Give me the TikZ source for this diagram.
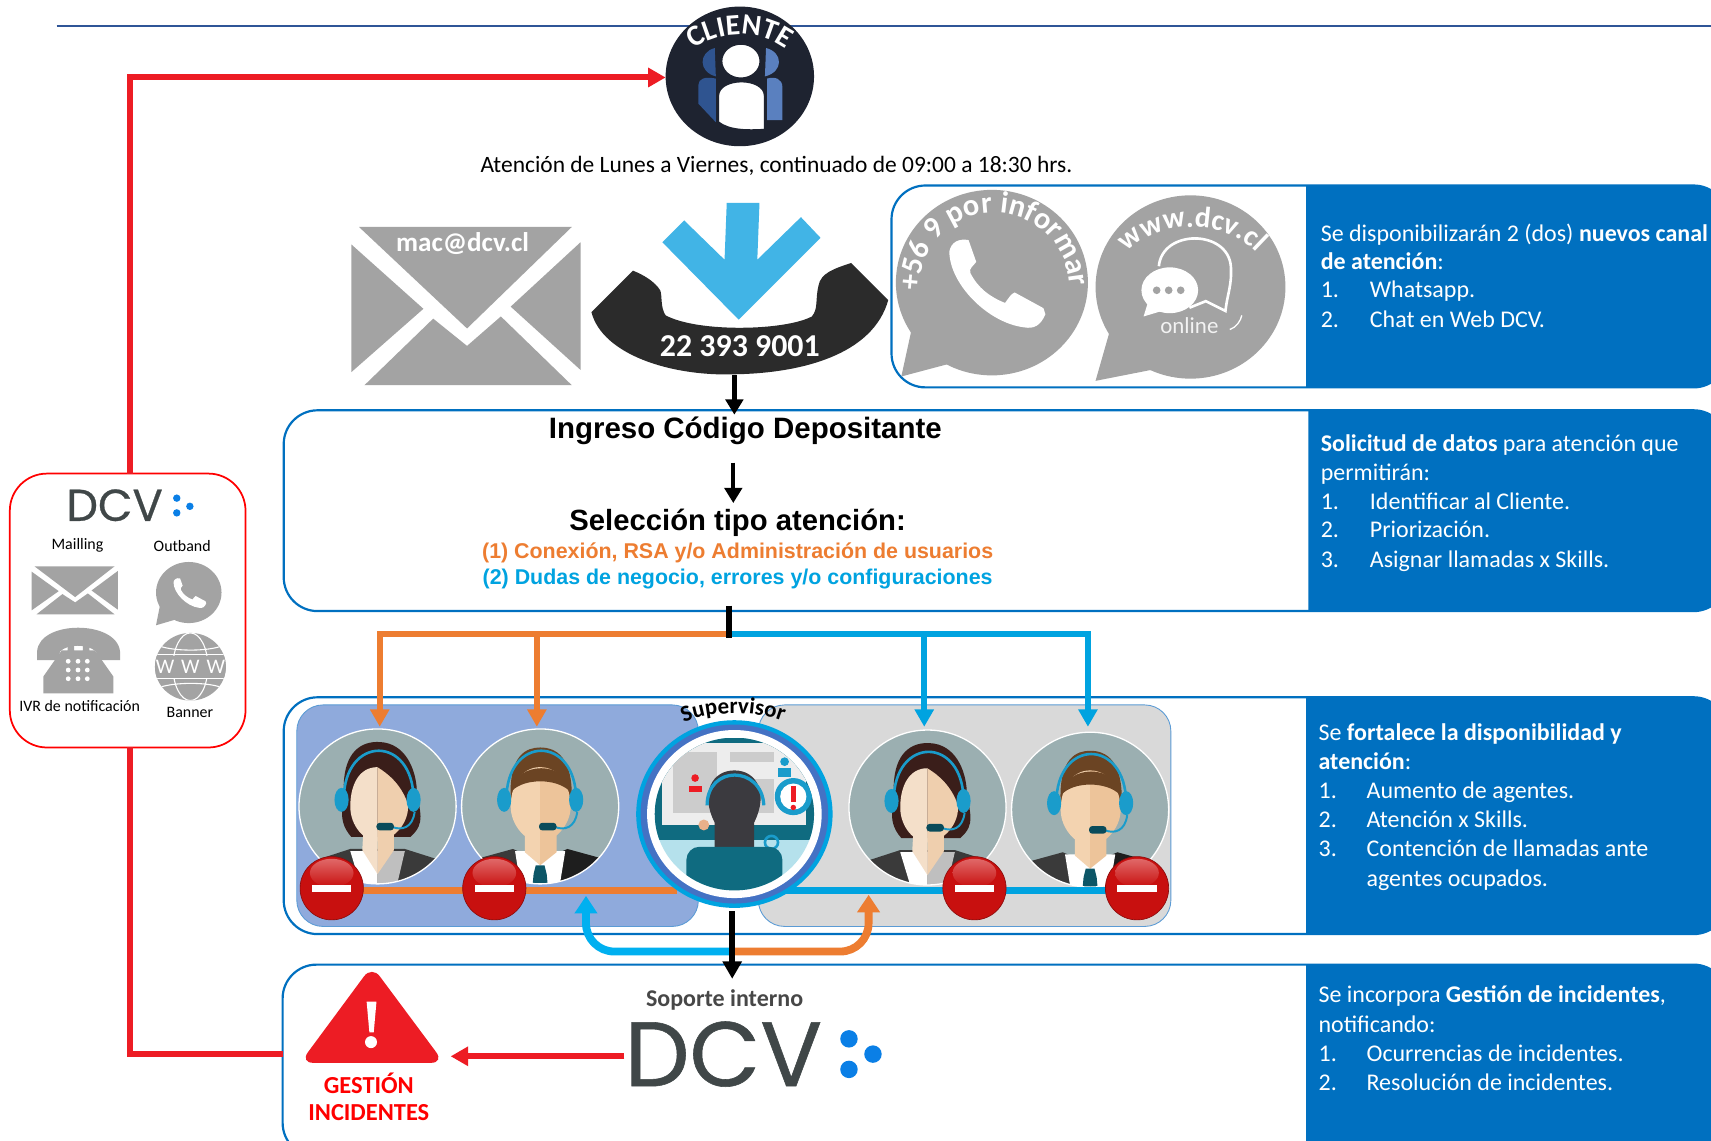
\documentclass[tikz,border=0pt]{standalone}
\usepackage{fontspec}
\setmainfont{Carlito}
\newfontfamily\arialf{Liberation Sans}
\newfontfamily\popf[FakeBold=0.6]{Poppins}
\usetikzlibrary{arrows.meta,shapes.geometric,decorations.text,calc}
\definecolor{panelblue}{HTML}{0070C0}
\definecolor{rulec}{HTML}{2F5597}
\definecolor{redl}{HTML}{ED1C24}
\definecolor{greyi}{HTML}{A3A3A3}
\definecolor{orangel}{HTML}{ED7D31}
\definecolor{bluel}{HTML}{00A3E0}
\definecolor{bluec}{HTML}{00B0F0}
\definecolor{skyi}{HTML}{41B4E6}
\definecolor{navyc}{HTML}{1E2330}
\definecolor{dcvgrey}{HTML}{404748}
\definecolor{dcvdot}{HTML}{0A7FE6}
\definecolor{agbg}{HTML}{9BAFB1}
\definecolor{boxblue}{HTML}{8FAADC}
\definecolor{boxgrey}{HTML}{D9D9D9}
\definecolor{boxline}{HTML}{5B9BD5}
\definecolor{teald}{HTML}{0F6B80}
\definecolor{headset}{HTML}{1A9CCB}
\definecolor{hairf}{HTML}{3A1E1A}
\definecolor{hairm}{HTML}{6B4423}
\definecolor{skinfl}{HTML}{F4DFC9}
\definecolor{skinfr}{HTML}{EFCFAE}
\definecolor{skinml}{HTML}{F3D3B0}
\definecolor{skinmr}{HTML}{EDC49A}
\definecolor{jacketa}{HTML}{3A3A3A}
\definecolor{jacketb}{HTML}{1E1E1E}
\definecolor{stopred}{HTML}{C8100F}
\definecolor{stophi}{HTML}{E06868}
\definecolor{stopdk}{HTML}{8B0C0C}
\definecolor{ringb}{HTML}{4472C4}
\definecolor{scene}{HTML}{B5E1EC}
\definecolor{headd}{HTML}{3B3A3F}
\definecolor{backa}{HTML}{2F5490}
\definecolor{backb}{HTML}{5A80BF}
\definecolor{supskin}{HTML}{E8B08A}
\tikzset{
 x=0.5pt,y=-0.5pt,
 panel/.style={draw=panelblue,line width=1pt,rounded corners=15.5pt,anchor=north west,inner sep=0pt,outer sep=0pt},
 ptext/.style={text=white,anchor=base west,inner sep=0pt,yshift=-3.5pt,font=\fontsize{10.98}{13}\selectfont},
 dcvword/.style={text=dcvgrey,inner sep=0pt},
 smalll/.style={text=black,inner sep=0pt,font=\fontsize{7.3}{9}\selectfont},
 redline/.style={draw=redl,line width=2.75pt,-{Triangle[length=8pt,width=8.5pt]}},
 redplain/.style={draw=redl,line width=2.75pt},
 blackarrow/.style={draw=black,line width=2pt,-{Triangle[length=7pt,width=8pt]}},
 orangedrop/.style={draw=orangel,line width=2.6pt,-{Triangle[length=8pt,width=8.5pt]}},
 bluedrop/.style={draw=bluel,line width=2.6pt,-{Triangle[length=8pt,width=8.5pt]}},
 lbox/.style={rounded corners=12pt,draw=boxline,line width=.4pt,anchor=north west,inner sep=0pt,outer sep=0pt},
}
\newcommand{\envshape}{%
 \fill[greyi] (329,208) -- (524,208) -- (428,301) -- cycle;
 \fill[greyi] (322,224) -- (388,283) -- (322,341) -- cycle;
 \fill[greyi] (532,222) -- (468,281) -- (532,339) -- cycle;
 \fill[greyi] (334,353) -- (397,292) -- (428,317) -- (459,290) -- (524,353) -- cycle;}
\newcommand{\phoneglyph}[1]{%
 \fill[white,#1] (0,.13) .. controls (.02,.02) and (.1,-.02) .. (.2,0) -- (.28,.25) .. controls (.25,.3) and (.2,.32) .. (.22,.38) .. controls (.3,.55) and (.42,.65) .. (.58,.72) .. controls (.62,.66) and (.64,.62) .. (.68,.6) -- (.98,.78) -- (1,.85) .. controls (.95,.98) and (.88,1.02) .. (.78,1) .. controls (.4,.95) and (0,.5) .. (0,.13) -- cycle;}
\newcommand{\headsetpart}{%
 \draw[headset,line width=1.2pt] (-31,-6) .. controls (-31,-66) and (33,-66) .. (33,-6);
 \fill[headset] (-33,-6) ellipse [x radius=6.5,y radius=11];
 \fill[headset] (33,-6) ellipse [x radius=6.5,y radius=11];
 \draw[headset,line width=.9pt] (34,5) .. controls (32,20) and (22,22) .. (14,19);
 \fill[teald!70!black,rounded corners=1.5pt] (-1,15) rectangle (15,22);}
\newcommand{\agentf}[2]{\begin{scope}[shift={(#1,#2)}]
 \begin{scope}
 \clip (0,0) ellipse [x radius=72,y radius=71];
 \fill[agbg] (-72,-71) rectangle (72,71);
 \fill[hairf] (-24,28) .. controls (-40,10) and (-28,-5) .. (-31,-20) .. controls (-30,-50) and (-15,-60) .. (2,-59) .. controls (25,-58) and (35,-35) .. (36,-15) .. controls (38,5) and (45,15) .. (30,28) -- cycle;
 \fill[jacketa] (-65,52) -- (-25,39) -- (25,39) -- (66,52) -- (85,80) -- (-85,80) -- cycle;
 \fill[white] (-25,41) -- (0,41) -- (0,84) -- (-12,84) -- cycle;
 \fill[black!25] (25,41) -- (0,41) -- (0,84) -- (15,84) -- cycle;
 \fill[skinfl] (-13,22) -- (0,22) -- (0,62) -- (-14,40) -- cycle;
 \fill[skinfr] (0,22) -- (15,22) -- (15,40) -- (0,62) -- cycle;
 \fill[skinfl] (0,-36) .. controls (-18,-36) and (-25,-18) .. (-25,0) .. controls (-25,18) and (-12,32) .. (0,32) -- cycle;
 \fill[skinfr] (0,-36) .. controls (18,-36) and (28,-18) .. (28,0) .. controls (28,18) and (12,32) .. (0,32) -- cycle;
 \fill[hairf] (0,-36) .. controls (10,-30) and (22,-20) .. (28,-2) -- (36,-10) .. controls (34,-30) and (20,-45) .. (0,-36) -- cycle;
 \headsetpart
 \end{scope}
 \draw[white,line width=.6pt] (0,0) ellipse [x radius=72,y radius=71];
\end{scope}}
\newcommand{\agentm}[2]{\begin{scope}[shift={(#1,#2)}]
 \begin{scope}
 \clip (0,0) ellipse [x radius=72,y radius=71];
 \fill[agbg] (-72,-71) rectangle (72,71);
 \fill[hairm] (-27,-6) .. controls (-29,-48) and (-12,-54) .. (0,-54) .. controls (15,-54) and (30,-45) .. (29,-6) -- cycle;
 \fill[jacketa] (-65,50) -- (-25,39) -- (0,50) -- (0,84) -- (-85,84) -- cycle;
 \fill[jacketb] (65,50) -- (25,39) -- (0,50) -- (0,84) -- (85,84) -- cycle;
 \fill[white] (-23,41) -- (23,41) -- (16,84) -- (-16,84) -- cycle;
 \fill[skinml] (-14,22) -- (0,22) -- (0,54) -- (-14,42) -- cycle;
 \fill[skinmr] (0,22) -- (15,22) -- (15,42) -- (0,54) -- cycle;
 \fill[teald!80!black] (-4,54) -- (4,54) -- (6,62) -- (8,84) -- (-8,84) -- (-6,62) -- cycle;
 \fill[skinml] (0,-36) .. controls (-18,-36) and (-27,-18) .. (-27,0) .. controls (-27,18) and (-12,33) .. (0,33) -- cycle;
 \fill[skinmr] (0,-36) .. controls (18,-36) and (28,-18) .. (28,0) .. controls (28,18) and (12,33) .. (0,33) -- cycle;
 \fill[hairm] (-26,-14) .. controls (-15,-26) and (15,-26) .. (27,-14) .. controls (25,-42) and (-23,-42) .. (-26,-14) -- cycle;
 \headsetpart
 \end{scope}
 \draw[white,line width=.6pt] (0,0) ellipse [x radius=72,y radius=71];
\end{scope}}
\newcommand{\stopmark}[2]{\begin{scope}[shift={(#1,#2)}]
 \fill[stopred,draw=stopdk,line width=.3pt] (0,0) ellipse [x radius=29,y radius=29];
 \shade[top color=stophi,bottom color=stopred] (0,-14) ellipse [x radius=20,y radius=13];
 \fill[white] (-18,-3) rectangle (18,3);
\end{scope}}
\begin{document}
\begin{tikzpicture}
\useasboundingbox (0,0) rectangle (1568,1045);
\clip (0,0) rectangle (1568,1045);
\fill[white] (0,0) rectangle (1568,1045);
% top rule
\coordinate (ruleL) at (52,24);
\coordinate (ruleR) at (1568,24);
\draw[rulec,line width=.8pt] (ruleL) -- (ruleR);

% panels
\fill[panelblue] (1197,170) [rounded corners=15.5pt] -- (1583,170) -- (1583,355) [sharp corners] -- (1197,355) -- cycle;
\fill[panelblue] (1199,376) [rounded corners=15.5pt] -- (1583,376) -- (1583,560) [sharp corners] -- (1199,560) -- cycle;
\fill[panelblue] (1197,639) [rounded corners=15.5pt] -- (1583,639) -- (1583,856) [sharp corners] -- (1197,856) -- cycle;
\fill[panelblue] (1197,884) [rounded corners=15.5pt] -- (1583,884) -- (1583,1060) [sharp corners] -- (1197,1060) -- cycle;
\node[panel,minimum width=383pt,minimum height=92.5pt] (p1) at (817,170) {};
\node[panel,minimum width=661.5pt,minimum height=92pt] (p2) at (260,376) {};
\node[panel,minimum width=661.5pt,minimum height=108.5pt] (p3) at (260,639) {};
\node[panel,minimum width=662pt,minimum height=88pt] (p4) at (259,884) {};

% panel text
\node[ptext] (t11) at (1210,214) {Se disponibilizarán 2 (dos) \textbf{nuevos canal}};
\node[ptext] (t12) at (1210,240) {\textbf{de atención}:};
\node[ptext] (t13) at (1210,266) {1.};
\node[ptext] (t13b) at (1255,266) {Whatsapp.};
\node[ptext] (t14) at (1210,293) {2.};
\node[ptext] (t14b) at (1255,293) {Chat en Web DCV.};
\node[ptext] (t21) at (1210,407) {\textbf{Solicitud de datos} para atención que};
\node[ptext] (t22) at (1210,433) {permitirán:};
\node[ptext] (t23) at (1210,460) {1.};
\node[ptext] (t23b) at (1255,460) {Identificar al Cliente.};
\node[ptext] (t24) at (1210,486) {2.};
\node[ptext] (t24b) at (1255,486) {Priorización.};
\node[ptext] (t25) at (1210,513) {3.};
\node[ptext] (t25b) at (1255,513) {Asignar llamadas x Skills.};
\node[ptext] (t31) at (1208,672) {Se \textbf{fortalece la disponibilidad y}};
\node[ptext] (t32) at (1208,698) {\textbf{atención}:};
\node[ptext] (t33) at (1208,725) {1.};
\node[ptext] (t33b) at (1252,725) {Aumento de agentes.};
\node[ptext] (t34) at (1208,751) {2.};
\node[ptext] (t34b) at (1252,751) {Atención x Skills.};
\node[ptext] (t35) at (1208,778) {3.};
\node[ptext] (t35b) at (1252,778) {Contención de llamadas ante};
\node[ptext] (t36) at (1252,805) {agentes ocupados.};
\node[ptext] (t41) at (1208,912) {Se incorpora \textbf{Gestión de incidentes},};
\node[ptext] (t42) at (1208,939) {notificando:};
\node[ptext] (t43) at (1208,966) {1.};
\node[ptext] (t43b) at (1252,966) {Ocurrencias de incidentes.};
\node[ptext] (t44) at (1208,992) {2.};
\node[ptext] (t44b) at (1252,992) {Resolución de incidentes.};

% client
\node[ellipse,fill=navyc,minimum width=68pt,minimum height=64pt,inner sep=0pt,outer sep=0pt] (client) at (678,70) {};
\fill[backa] (655,44) .. controls (640,48) and (640,66) .. (656,70) -- cycle;
\fill[backb] (702,44) .. controls (718,48) and (718,66) .. (701,70) -- cycle;
\fill[backa] (640,95) -- (640,78) .. controls (640,72) and (646,70) .. (656,72) -- (656,112) -- cycle;
\fill[backb] (717,110) -- (717,80) .. controls (717,72) and (710,70) .. (703,72) -- (703,110) -- cycle;
\fill[white,draw=navyc,line width=1pt] (679,56) ellipse [x radius=18,y radius=16];
\fill[white,draw=navyc,line width=1pt] (658,112) -- (658,88) .. controls (658,70) and (701,70) .. (701,88) -- (701,119) .. controls (685,120) and (668,120) .. (658,112) -- cycle;
\path[postaction={decorate},decoration={text along path,text color=white,text align=center,text={|\fontsize{13.5}{14}\selectfont\bfseries|CLIENTE}}] (626,54) .. controls (652,24) and (704,24) .. (730,54);
\node[inner sep=0pt,font=\fontsize{10.75}{13}\selectfont] (hours) at (711.5,152) {Atención de Lunes a Viernes, continuado de 09:00 a 18:30 hrs.};

% large envelope
\envshape
\node[inner sep=0pt,text=white,font=\fontsize{12.4}{14}\selectfont\bfseries] (mail) at (424,223) {mac@dcv.cl};

% phone
\fill[black!83] (580,248) -- (542,286) .. controls (552,325) and (615,345) .. (673,343) .. controls (735,342) and (800,325) .. (814,275) -- (780,241) .. controls (765,246) and (752,250) .. (750,262) .. controls (747,275) and (750,283) .. (744,290) .. controls (720,303) and (640,305) .. (610,289) .. controls (605,282) and (607,270) .. (605,266) .. controls (600,258) and (590,252) .. (580,248) -- cycle;
\fill[skyi] (666,186) -- (696,186) -- (694,238) -- (734,199) -- (752,218) -- (677,293) -- (607,222) -- (627,202) -- (664,238) -- cycle;
\node[inner sep=0pt,text=white,font=\fontsize{14.6}{16}\selectfont\bfseries] (tel) at (678,317) {22 393 9001};
\coordinate (phoneb) at (673,344);
\coordinate (p2in) at (673,380);
\draw[blackarrow] (phoneb) -- (p2in);

% whatsapp bubble
\fill[greyi] (909,259) ellipse [x radius=88,y radius=85];
\fill[greyi] (826,345) -- (838,290) -- (875,332) -- cycle;
\phoneglyph{shift={(870,220)},x=88pt*0.5,y=-80pt*0.5}
\path[postaction={decorate},decoration={text along path,text color=white,text align=center,text={|\fontsize{14}{15}\selectfont\bfseries|+56 9 por informar}}] (843,272) .. controls (840,170) and (978,170) .. (981,268);
% chat bubble
\fill[greyi] (1091,263) ellipse [x radius=87,y radius=84];
\fill[greyi] (1004,349) -- (1018,300) -- (1060,338) -- cycle;
\draw[white,line width=1.2pt] (1062,244) .. controls (1065,210) and (1125,210) .. (1128,244) .. controls (1129,262) and (1125,268) .. (1123,285) -- (1105,276) -- (1090,282);
\fill[white] (1072,266) ellipse [x radius=26,y radius=21];
\fill[white] (1052,277) -- (1048,290) -- (1068,284) -- cycle;
\fill[greyi] (1060,266) circle [radius=3.5];
\fill[greyi] (1071,266) circle [radius=3.5];
\fill[greyi] (1082,266) circle [radius=3.5];
\draw[white,line width=.6pt] (1127,302) .. controls (1133,300) and (1137,294) .. (1138,289);
\path[postaction={decorate},decoration={text along path,text color=white,text align=center,text={|\fontsize{13.5}{15}\selectfont\bfseries|www.dcv.cl}}] (1028,238) .. controls (1055,198) and (1128,198) .. (1157,238);
\node[inner sep=0pt,text=white!90!gray,font=\fontsize{10.5}{12}\selectfont] (online) at (1090,298) {online};

% panel 2 headings
\node[inner sep=0pt,font=\arialf\fontsize{13.5}{15}\selectfont\bfseries] (ingreso) at (683,395) {Ingreso Código Depositante};
\node[inner sep=0pt,font=\arialf\fontsize{13.4}{15}\selectfont\bfseries] (seleccion) at (676,479) {Selección tipo atención:};
\node[inner sep=0pt,text=orangel,font=\arialf\fontsize{9.8}{11}\selectfont\bfseries] (opt1) at (676,507) {(1) Conexión, RSA y/o Administración de usuarios};
\node[inner sep=0pt,text=bluel,font=\arialf\fontsize{9.8}{11}\selectfont\bfseries] (opt2) at (676,531) {(2) Dudas de negocio, errores y/o configuraciones};
\coordinate (a1) at (672,424);
\coordinate (a2) at (672,461);
\draw[blackarrow] (a1) -- (a2);

% agent boxes
\node[lbox,fill=boxblue,minimum width=184pt,minimum height=101.5pt] (lbx) at (272,646) {};
\node[lbox,fill=boxgrey,minimum width=189pt,minimum height=101.5pt] (rbx) at (695,646) {};

% drop lines
\coordinate (hub) at (668,581);
\coordinate (hubtop) at (668,555);
\coordinate (o1) at (348,666);
\coordinate (o2) at (492,666);
\coordinate (b1) at (847,666);
\coordinate (b2) at (997,666);
\draw[orangedrop] (hub) -| (o1);
\draw[orangedrop] (hub) -| (o2);
\draw[bluedrop] (hub) -| (b2);
\draw[bluedrop] (hub) -| (b1);
\draw[black,line width=2.5pt] (hubtop) -- (hub) -- ++(0,4);

% agents
\agentf{346}{739}
\agentm{495}{739}
\agentf{850}{740}
\agentm{999}{742}

% status lines
\coordinate (s1) at (304,816);
\coordinate (s2) at (620,816);
\coordinate (s3) at (720,816);
\coordinate (s4) at (1042,816);
\draw[orangel,line width=3pt] (s1) -- (s2);
\draw[bluel,line width=3pt] (s3) -- (s4);
\stopmark{304}{814}
\stopmark{453}{814}
\stopmark{893}{814}
\stopmark{1042}{814}

% feedback arrows
\coordinate (fb) at (671,872);
\coordinate (fbl) at (537,821);
\coordinate (fbr) at (796,820);
\draw[bluec,line width=3.6pt,-{Triangle[length=8pt,width=10pt]},rounded corners=13pt] (fb) -| (fbl);
\draw[orangel,line width=3.6pt,-{Triangle[length=8pt,width=10pt]},rounded corners=13pt] (fb) -| (fbr);

% supervisor
\node[ellipse,fill=bluel,minimum width=90pt,minimum height=86pt,inner sep=0pt,outer sep=0pt] (sup) at (673,746) {};
\fill[ringb] (673,746) ellipse [x radius=86,y radius=82];
\fill[white] (673,746) ellipse [x radius=80,y radius=77];
\begin{scope}[shift={(673,746)}]
 \clip (0,0) ellipse [x radius=73,y radius=70];
 \fill[scene] (-73,-70) rectangle (73,70);
 \fill[teald] (-75,-70) rectangle (75,24);
 \fill[black!7] (-66,-65) rectangle (66,10);
 \fill[black!20] (-56,-57) rectangle (-16,-1);
 \fill[black!20] (-4,-57) rectangle (36,-48);
 \fill[black!20] (18,-32) rectangle (36,-1);
 \fill[redl] (-36,-33) circle [radius=3.5];
 \fill[redl] (-42,-20) -- (-42,-26) -- (-30,-26) -- (-30,-20) -- cycle;
 \fill[headset] (46,-48) circle [radius=4];
 \fill[headset] (40,-34) -- (40,-42) -- (52,-42) -- (52,-34) -- cycle;
 \fill[headset] (54,-16) circle [radius=17];
 \fill[white] (54,-16) circle [radius=12];
 \fill[redl] (51.5,-26) rectangle (56.5,-11);
 \fill[redl] (54,-6) circle [radius=2.5];
 \fill[supskin] (-28,10) circle [radius=5];
 \fill[headd] (-18,30) -- (-18,8) .. controls (-32,-20) and (-20,-40) .. (0,-40) .. controls (20,-40) and (32,-20) .. (18,8) -- (18,30) -- cycle;
 \draw[headset,line width=1.5pt] (-25,-8) .. controls (-25,-45) and (25,-45) .. (27,-8);
 \draw[headset,line width=1.2pt] (34,26) circle [radius=6];
 \fill[teald,rounded corners=6pt] (-44,30) rectangle (44,90);
\end{scope}
\path[postaction={decorate},decoration={text along path,text align=center,text={|\fontsize{10.5}{12}\selectfont\bfseries|Supervisor}}] (620,665) .. controls (650,650) and (695,650) .. (724,664);

% black arrow to soporte
\coordinate (supb) at (671,835);
\coordinate (sopt) at (671,897);
\draw[black,line width=3pt,-{Triangle[length=8pt,width=8.5pt]}] (supb) -- (sopt);

% incident section
\fill[redl,rounded corners=6pt] (340.8,885) -- (407,974) -- (275,974) -- cycle;
\fill[white] (336,918) -- (345,918) -- (342.5,946) -- (338.5,946) -- cycle;
\fill[white] (340,955) circle [radius=5.5];
\node[inner sep=0pt,text=red,font=\fontsize{11.2}{13}\selectfont\bfseries] (gest) at (338,993) {GESTIÓN};
\node[inner sep=0pt,text=red,font=\fontsize{11.2}{13}\selectfont\bfseries] (inc) at (338,1020) {INCIDENTES};
\node[inner sep=0pt,text=black!72,font=\fontsize{11}{13}\selectfont\bfseries] (sop) at (664,916) {Soporte interno};
\node[dcvword,font=\popf\fontsize{42}{46}\selectfont] (bigdcv) at (663,966) {DCV};
\fill[dcvdot] (778,952) circle [radius=8];
\fill[dcvdot] (800,966) circle [radius=8];
\fill[dcvdot] (778,980) circle [radius=8];
\coordinate (incin) at (413,968);
\draw[redline] (bigdcv.west |- incin) -- (incin);

% left red links and channel box
\node[draw=red,line width=.8pt,rounded corners=17pt,minimum width=108pt,minimum height=125.5pt,anchor=north west,inner sep=0pt,outer sep=0pt,fill=white] (rb) at (9,434) {};
\coordinate (rtop) at (119.5,434);
\coordinate (rbot) at (119.5,685);
\coordinate (clientin) at (610,71);
\draw[redline] (rtop) |- (clientin);
\draw[redplain] (rbot) |- (p4.west |- 0,966);
\node[dcvword,font=\popf\fontsize{20.5}{23}\selectfont] (smdcv) at (105,463) {DCV};
\fill[dcvdot] (162,456.5) circle [radius=3.4];
\fill[dcvdot] (174,464) circle [radius=3.4];
\fill[dcvdot] (162,470) circle [radius=3.4];
\node[smalll] (lm) at (71,500) {Mailling};
\node[smalll] (lo) at (167,500) {Outband};
\node[smalll] (li) at (73,647) {IVR de notificación};
\node[smalll] (lb) at (174,653) {Banner};
% small envelope
\begin{scope}[shift={(29,519)},xscale=.376,yscale=.303,shift={(-322,-208)}]
\envshape
\end{scope}
% small whatsapp
\fill[greyi] (173,543) ellipse [x radius=30,y radius=28];
\fill[greyi] (143,573) -- (147,553) -- (160,568) -- cycle;
\phoneglyph{shift={(159,530)},x=30pt*0.5,y=-27pt*0.5}
% desk phone
\fill[greyi] (34,605) -- (34,597) .. controls (36,568) and (107,568) .. (110,597) -- (110,605) -- (90,605) -- (88,597) .. controls (80,590) and (62,590) .. (55,597) -- (53,605) -- cycle;
\fill[greyi] (39.7,635.5) -- (39.7,620) -- (56.5,596) -- (62,596) -- (62,592) -- (68,592) -- (68,596) -- (76,596) -- (76,592) -- (82,592) -- (82,596) -- (87,596) -- (103.9,620) -- (103.9,635.5) -- cycle;
\foreach \dx in {62.5,71.5,80} \foreach \dy in {606,614,622} \fill[white] (\dx,\dy) circle [radius=2.2];
% globe
\fill[greyi] (174.5,611) ellipse [x radius=32.5,y radius=31];
\begin{scope}
\clip (174.5,611) ellipse [x radius=32.5,y radius=31];
\draw[white,line width=.5pt] (174.5,611) ellipse [x radius=16,y radius=31];
\draw[white,line width=.5pt] (142,600) -- (207,600);
\draw[white,line width=.5pt] (142,622) -- (207,622);
\draw[white,line width=.5pt] (146,592) .. controls (160,597) and (190,597) .. (203,592);
\draw[white,line width=.5pt] (146,630) .. controls (160,625) and (190,625) .. (203,630);
\fill[greyi] (142,601) rectangle (207,621);
\end{scope}
\node[inner sep=0pt,text=white,font=\fontsize{9.5}{10}\selectfont] (www) at (174.5,611) {W\,\,W\,\,W};
\end{tikzpicture}
\end{document}
